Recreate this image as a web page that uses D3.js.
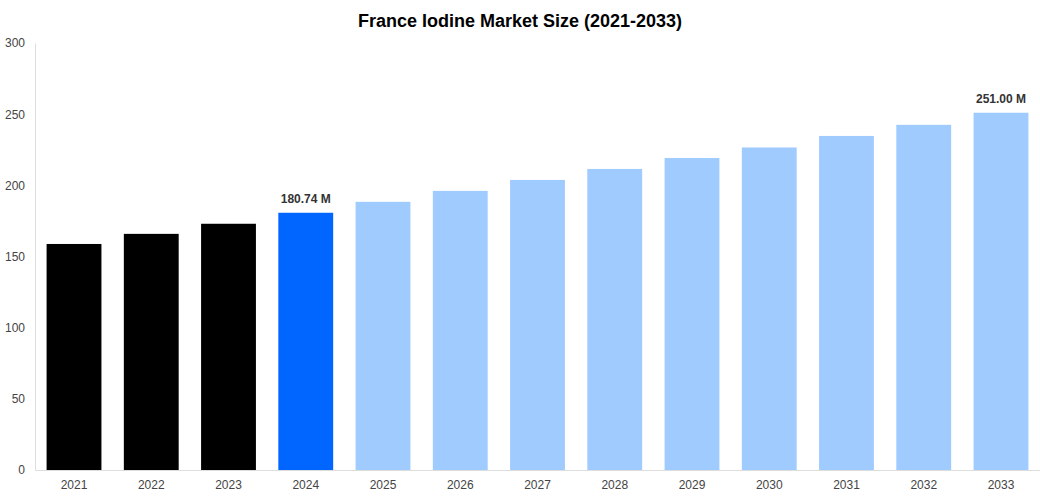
<!DOCTYPE html>
<html>
<head>
<script src="https://d3js.org/d3.v7.min.js"></script>
<style>
  body { margin: 0; background: #fff; font-family: Arial, "Liberation Sans", sans-serif; }
</style>
</head>
<body>
<div id="chart"></div>
<script>
// chart data
var years = ["2021","2022","2023","2024","2025","2026","2027","2028","2029","2030","2031","2032","2033"];
var values = [158.8, 165.9, 173.0, 180.74, 188.4, 196.1, 203.8, 211.5, 219.2, 226.6, 234.7, 242.5, 251.0];
var colors = ["#000000","#000000","#000000","#0066ff","#a0cbff","#a0cbff","#a0cbff","#a0cbff","#a0cbff","#a0cbff","#a0cbff","#a0cbff","#a0cbff"];
var labelled = {"2024": "180.74 M", "2033": "251.00 M"};
var yTicks = [0, 50, 100, 150, 200, 250, 300];

var W = 1040, H = 500;
var margin = {top: 43, right: 0, bottom: 30, left: 35};
var width = W - margin.left - margin.right,
    height = H - margin.top - margin.bottom;

var svg = d3.select("#chart").append("svg")
    .attr("width", W).attr("height", H);

svg.append("text")
    .attr("x", W / 2).attr("y", 27)
    .attr("text-anchor", "middle")
    .style("font-size", "18px").style("font-weight", "bold")
    .text("France Iodine Market Size (2021-2033)");

var g = svg.append("g").attr("transform", "translate(" + margin.left + "," + margin.top + ")");

var x = d3.scaleBand().domain(years).range([0, width]).paddingInner(0.29).paddingOuter(0.15);
var y = d3.scaleLinear().domain([0, 300]).range([height, 0]);

// y axis
var yAxis = g.append("g").call(d3.axisLeft(y).tickValues(yTicks).tickSize(0).tickPadding(10));
yAxis.select(".domain").attr("stroke", "#ddd");
yAxis.selectAll("text").style("font-size", "12px").attr("fill", "#444");

// bars
g.selectAll("rect.bar").data(years).enter().append("rect")
    .attr("class", "bar")
    .attr("x", function(d) { return x(d); })
    .attr("width", x.bandwidth())
    .attr("y", function(d, i) { return y(values[i]); })
    .attr("height", function(d, i) { return height - y(values[i]); })
    .attr("fill", function(d, i) { return colors[i]; });

// value labels
g.selectAll("text.val").data(years.filter(function(d) { return labelled[d]; })).enter().append("text")
    .attr("class", "val")
    .attr("x", function(d) { return x(d) + x.bandwidth() / 2; })
    .attr("y", function(d) { return y(values[years.indexOf(d)]) - 10; })
    .attr("text-anchor", "middle")
    .style("font-size", "12px").style("font-weight", "bold").attr("fill", "#333")
    .text(function(d) { return labelled[d]; });

// x axis
var xAxis = g.append("g").attr("transform", "translate(0," + height + ")")
    .call(d3.axisBottom(x).tickSize(0).tickPadding(10));
xAxis.select(".domain").attr("stroke", "#ddd");
xAxis.selectAll("text").style("font-size", "12px").attr("fill", "#444");
</script>
</body>
</html>
